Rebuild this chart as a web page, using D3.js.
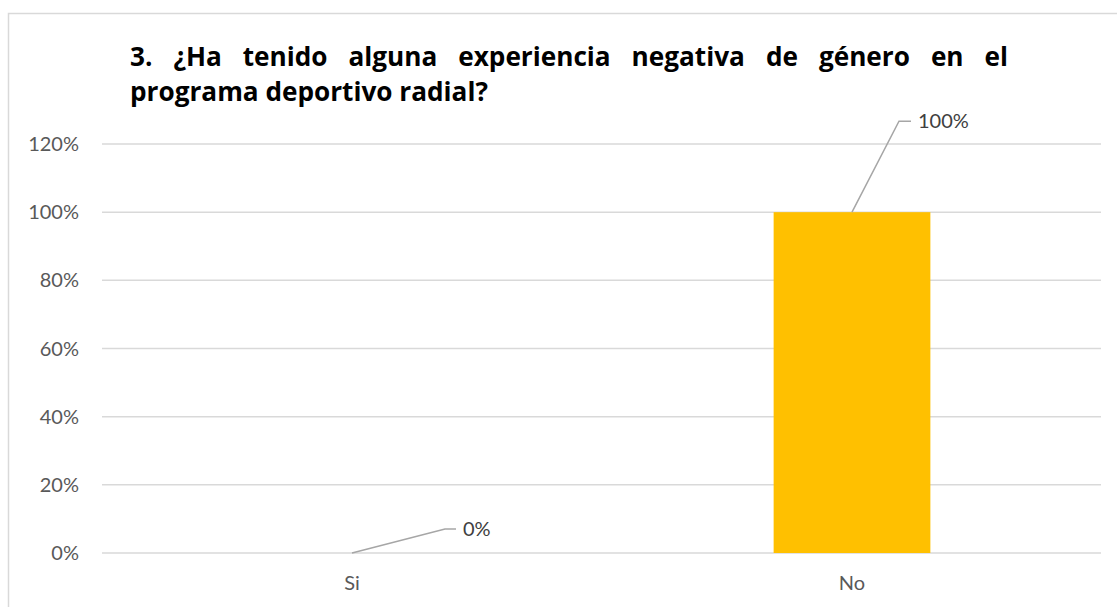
<html>
<head>
<meta charset="utf-8">
<script src="https://d3js.org/d3.v7.min.js"></script>
<style>
  body { margin: 0; background: #fff; }
</style>
</head>
<body>
<script>
// chart data
const categories = ["Si", "No"];
const values = [0, 1];
const valueLabels = ["0%", "100%"];
const yTicks = [0, 0.2, 0.4, 0.6, 0.8, 1.0, 1.2];
const titleLines = [
  "3. ¿Ha tenido alguna experiencia negativa de género en el",
  "programa deportivo radial?"
];

const W = 1117, H = 607;
const plotL = 102, plotR = 1102, plotT = 144, plotB = 553;

const svg = d3.select("body").append("svg")
  .attr("width", W).attr("height", H);

// outer border of the chart box
svg.append("rect")
  .attr("x", 8.5).attr("y", 13.5)
  .attr("width", 1120).attr("height", 620)
  .attr("fill", "#fff").attr("stroke", "#d9d9d9").attr("stroke-width", 1.5);

const x = d3.scaleBand().domain(categories).range([plotL, plotR]).padding(0);
const y = d3.scaleLinear().domain([0, 1.2]).range([plotB, plotT]);

// gridlines
svg.append("g").selectAll("line")
  .data(yTicks).enter().append("line")
  .attr("x1", plotL).attr("x2", plotR - 1)
  .attr("y1", d => y(d)).attr("y2", d => y(d))
  .attr("stroke", "#d9d9d9").attr("stroke-width", 1.5);

// y tick labels
svg.append("g").selectAll("text")
  .data(yTicks).enter().append("text")
  .attr("x", 79).attr("y", d => y(d))
  .attr("dy", "0.35em")
  .attr("text-anchor", "end")
  .attr("font-family", "Lato, 'Open Sans', sans-serif")
  .attr("font-size", 20)
  .attr("fill", "#595959")
  .text(d => Math.round(d * 100) + "%");

// x labels
svg.append("g").selectAll("text")
  .data(categories).enter().append("text")
  .attr("x", d => x(d) + x.bandwidth() / 2)
  .attr("y", 590)
  .attr("text-anchor", "middle")
  .attr("font-family", "Lato, 'Open Sans', sans-serif")
  .attr("font-size", 20)
  .attr("fill", "#595959")
  .text(d => d);

// bars
const barW = x.bandwidth() / 3.19;
svg.append("g").selectAll("rect")
  .data(values).enter().append("rect")
  .attr("x", (d, i) => x(categories[i]) + (x.bandwidth() - barW) / 2)
  .attr("y", d => y(d))
  .attr("width", barW)
  .attr("height", d => y(0) - y(d))
  .attr("fill", "#ffc000");

// data labels with leader lines
const labelOffsets = [[93, -24, 11], [47, -91, 12]];
const lbl = svg.append("g").selectAll("g")
  .data(values).enter().append("g");
lbl.append("polyline")
  .attr("points", (d, i) => {
    const cx = x(categories[i]) + x.bandwidth() / 2, cy = y(d);
    const o = labelOffsets[i];
    return [[cx, cy], [cx + o[0], cy + o[1]], [cx + o[0] + o[2], cy + o[1]]].join(" ");
  })
  .attr("fill", "none").attr("stroke", "#a6a6a6").attr("stroke-width", 1.5);
lbl.append("text")
  .attr("x", (d, i) => x(categories[i]) + x.bandwidth() / 2 + labelOffsets[i][0] + labelOffsets[i][2] + 7)
  .attr("y", (d, i) => y(d) + labelOffsets[i][1])
  .attr("dy", "0.35em")
  .attr("font-family", "Lato, 'Open Sans', sans-serif")
  .attr("font-size", 20)
  .attr("fill", "#404040")
  .text((d, i) => valueLabels[i]);

// title: second line sets the size, first line justified between 130 and 1008
const tx0 = 130, tx1 = 1008;
const tg = svg.append("g").attr("font-family", "'Open Sans', sans-serif")
  .attr("font-size", 24).attr("font-weight", "bold").attr("fill", "#000");
const probe = tg.append("text").text(titleLines[1]);
const tSize = 24 * 358 / probe.node().getComputedTextLength();
probe.remove();
tg.attr("font-size", tSize);

const words = titleLines[0].split(" ");
const widths = words.map(w => {
  const t = tg.append("text").text(w);
  const len = t.node().getComputedTextLength();
  t.remove();
  return len;
});
const gap = (tx1 - tx0 - d3.sum(widths)) / (words.length - 1);
let cx = tx0;
words.forEach((w, i) => {
  tg.append("text").attr("x", cx).attr("y", 66).text(w);
  cx += widths[i] + gap;
});
tg.append("text").attr("x", tx0).attr("y", 101).text(titleLines[1]);
</script>
</body>
</html>
